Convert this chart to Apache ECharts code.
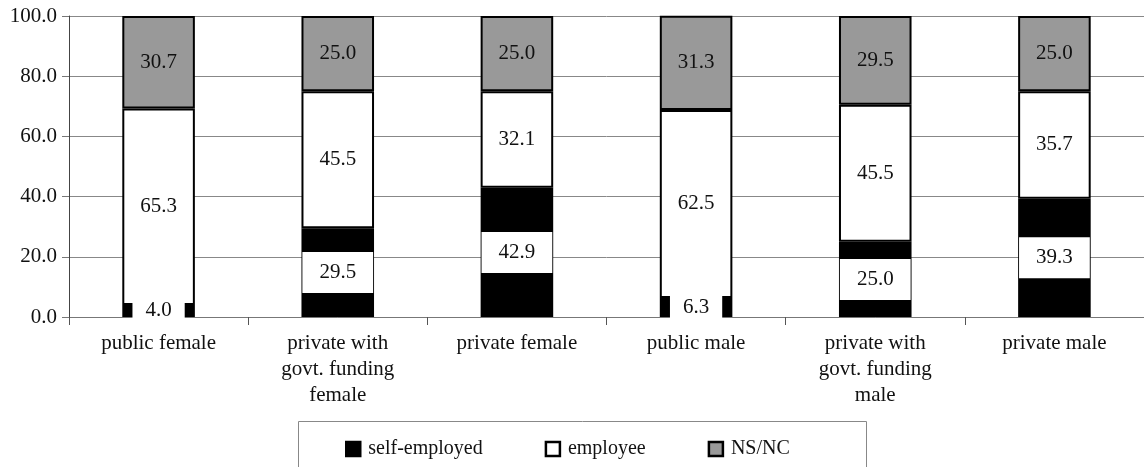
<!DOCTYPE html>
<html>
<head>
<meta charset="utf-8">
<script src="https://cdn.jsdelivr.net/npm/echarts@6/dist/echarts.min.js"></script>
<style>
  html, body { margin: 0; padding: 0; background: #fff; }
  #chart { width: 1144px; height: 467px; }
</style>
</head>
<body>
<div id="chart"></div>
<script>
var categories = [
  'public female',
  'private with\ngovt. funding\nfemale',
  'private female',
  'public male',
  'private with\ngovt. funding\nmale',
  'private male'
]
var selfEmployed = [4.0, 29.5, 42.9, 6.3, 25.0, 39.3]
var employee = [65.3, 45.5, 32.1, 62.5, 45.5, 35.7]
var nsnc = [30.7, 25.0, 25.0, 31.3, 29.5, 25.0]
var seriesNames = ['self-employed', 'employee', 'NS/NC']

var font = 'Liberation Serif'
var chart = echarts.init(document.getElementById('chart'))

function barLabel(extra) {
  return Object.assign({
    show: true,
    position: 'inside',
    color: '#111',
    fontFamily: font,
    fontSize: 21,
    formatter: function (p) { return p.value.toFixed(1) }
  }, extra || {})
}

// white box behind the self-employed labels, a bit wider for two-digit values
var selfData = selfEmployed.map(function (v) {
  return { value: v, label: { padding: [10, v >= 10 ? 17 : 13] } }
})

chart.setOption({
  animation: false,
  grid: { left: 69, right: -5, top: 16, bottom: 150 },
  graphic: [{
    type: 'rect',
    shape: { x: 298.5, y: 421.5, width: 568, height: 60 },
    style: { fill: 'none', stroke: '#888', lineWidth: 1 }
  }],
  legend: {
    data: seriesNames,
    left: 340,
    top: 434,
    icon: 'rect',
    itemWidth: 14,
    itemHeight: 14,
    itemGap: 62,
    itemStyle: { borderWidth: 2.5, borderColor: '#000' },
    textStyle: { fontFamily: font, fontSize: 20, color: '#111', padding: [0, 0, 0, 3] }
  },
  xAxis: {
    type: 'category',
    data: categories,
    axisLine: { lineStyle: { color: '#777' } },
    axisTick: { show: true, length: 8, lineStyle: { color: '#555' } },
    axisLabel: { fontFamily: font, fontSize: 21, color: '#111', margin: 13, lineHeight: 26, interval: 0 }
  },
  yAxis: {
    type: 'value',
    min: 0,
    max: 100,
    interval: 20,
    axisLine: { show: true, lineStyle: { color: '#444' } },
    axisTick: { show: true, length: 7, lineStyle: { color: '#777' } },
    splitLine: { lineStyle: { color: '#888' } },
    axisLabel: {
      fontFamily: font, fontSize: 21, color: '#111', margin: 12,
      formatter: function (v) { return v.toFixed(1) }
    }
  },
  series: [
    {
      name: seriesNames[0],
      type: 'bar',
      stack: 'all',
      barWidth: '40.5%',
      data: selfData,
      itemStyle: { color: '#000', borderColor: '#000', borderWidth: 2 },
      label: barLabel({ backgroundColor: '#fff' })
    },
    {
      name: seriesNames[1],
      type: 'bar',
      stack: 'all',
      data: employee,
      itemStyle: { color: '#fff', borderColor: '#000', borderWidth: 2 },
      label: barLabel()
    },
    {
      name: seriesNames[2],
      type: 'bar',
      stack: 'all',
      data: nsnc,
      itemStyle: { color: '#999', borderColor: '#000', borderWidth: 2 },
      label: barLabel()
    }
  ]
})
</script>
</body>
</html>
